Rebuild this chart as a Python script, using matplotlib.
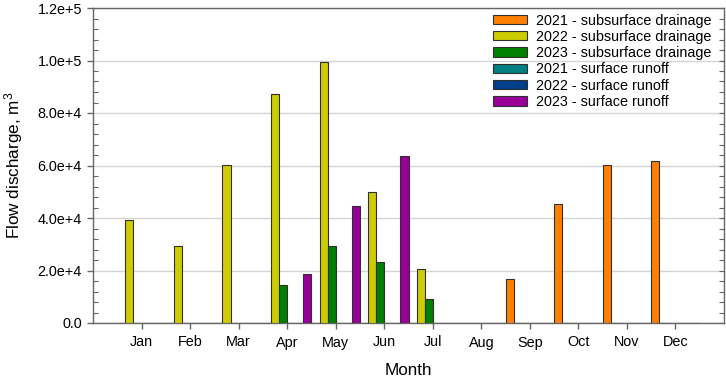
import numpy as np
import matplotlib
matplotlib.use("Agg")
import matplotlib.pyplot as plt
from matplotlib.ticker import FuncFormatter, MultipleLocator

plt.rcParams["font.family"] = ["Liberation Sans", "DejaVu Sans"]
plt.rcParams["mathtext.default"] = "regular"

months = ["Jan", "Feb", "Mar", "Apr", "May", "Jun",
          "Jul", "Aug", "Sep", "Oct", "Nov", "Dec"]

# values (m3), nan = no bar
sub_2021 = [np.nan, np.nan, np.nan, np.nan, np.nan, np.nan,
            np.nan, np.nan, 16700, 45300, 60200, 61800]
sub_2022 = [39300, 29200, 60200, 87400, 99600, 49800,
            20400, np.nan, np.nan, np.nan, np.nan, np.nan]
sub_2023 = [np.nan, np.nan, np.nan, 14400, 29200, 23100,
            9300, np.nan, np.nan, np.nan, np.nan, np.nan]
surf_2021 = [np.nan] * 12
surf_2022 = [np.nan] * 12
surf_2023 = [np.nan, np.nan, np.nan, 18700, 44700, 63700,
             np.nan, np.nan, np.nan, np.nan, np.nan, np.nan]

series = [
    ("2021 - subsurface drainage", sub_2021, "#FF8000"),
    ("2022 - subsurface drainage", sub_2022, "#CCCC00"),
    ("2023 - subsurface drainage", sub_2023, "#008000"),
    ("2021 - surface runoff", surf_2021, "#008080"),
    ("2022 - surface runoff", surf_2022, "#003F8C"),
    ("2023 - surface runoff", surf_2023, "#990099"),
]

fig = plt.figure(figsize=(7.26, 3.82), dpi=100)
ax = fig.add_axes([93 / 726, 1 - 323 / 382, 631 / 726, 315 / 382])

x = np.arange(1, 13)
w = 1 / 6
for i, (label, vals, color) in enumerate(series):
    ax.bar(x + (i - 3) * w, np.nan_to_num(np.array(vals, dtype=float)), width=w,
           align="edge", color=color, edgecolor="#303030", linewidth=0.8,
           label=label, zorder=3)

ax.set_xlim(0, 13)
ax.set_ylim(0, 1.2e5)
ax.set_xticks(x)
ax.set_xticklabels(months)
ax.yaxis.set_major_locator(MultipleLocator(2e4))
ax.yaxis.set_minor_locator(MultipleLocator(4e3))


def sci_fmt(v, pos):
    if v == 0:
        return "0.0"
    e = int(np.floor(np.log10(abs(v))))
    return f"{v / 10 ** e:.1f}e+{e}"


ax.yaxis.set_major_formatter(FuncFormatter(sci_fmt))
ax.grid(axis="y", color="#D4D4D4", linewidth=1, zorder=0)
ax.set_axisbelow(True)

for s in ax.spines.values():
    s.set_color("#666666")
    s.set_linewidth(1)

ax.tick_params(axis="x", which="major", direction="out", length=4, width=1,
               color="#666666", labelsize=10.4, pad=5)
ax.tick_params(axis="y", which="major", direction="out", length=4, width=1,
               color="#666666", labelsize=10.4, pad=4)
ax.tick_params(axis="y", which="minor", direction="in", length=3.5, width=0.8,
               color="#666666")
ax.tick_params(axis="x", which="minor", bottom=False)

# right side ticks pointing in
axr = ax.twinx()
axr.set_ylim(ax.get_ylim())
axr.yaxis.set_major_locator(MultipleLocator(2e4))
axr.yaxis.set_minor_locator(MultipleLocator(4e3))
axr.tick_params(axis="y", which="both", direction="in", length=3.5, width=0.8,
                color="#666666", labelright=False)
for s in axr.spines.values():
    s.set_visible(False)

ax.set_xlabel("Month", fontsize=12.3)
ax.xaxis.set_label_coords(0.5, -0.127)
ax.set_ylabel("Flow discharge, m$^3$", fontsize=12.3)
ax.yaxis.set_label_coords(-0.108, 0.5)

ax.legend(loc="upper left", bbox_to_anchor=(493.3 / 726, 1 - 13.5 / 382),
          bbox_transform=fig.transFigure, frameon=False, fontsize=10.4,
          borderpad=0, borderaxespad=0, handlelength=2.3, handleheight=0.62,
          handletextpad=0.65, labelspacing=0.16)

plt.savefig("out.png", dpi=100)
